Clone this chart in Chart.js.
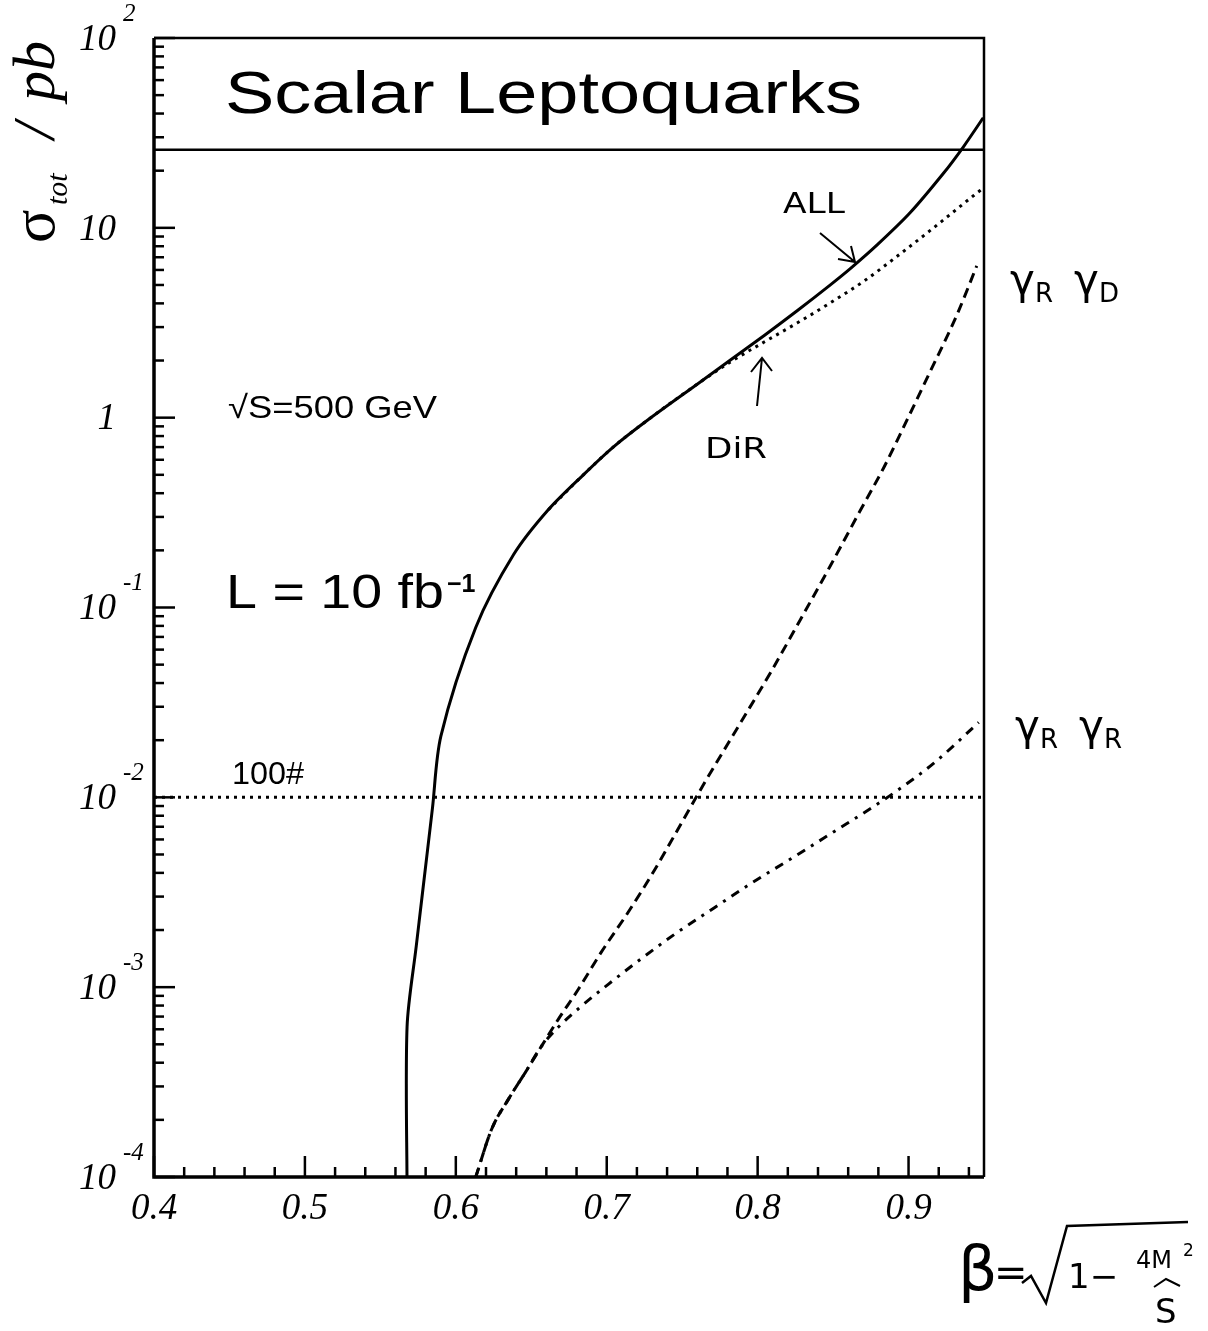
<!DOCTYPE html>
<html>
<head>
<meta charset="utf-8">
<title>Scalar Leptoquarks</title>
<script src="https://cdn.jsdelivr.net/npm/chart.js@4.4.0/dist/chart.umd.min.js"></script>
<style>
  body { margin: 0; background: #fff; }
  #wrap { width: 1208px; height: 1331px; position: relative; }
</style>
</head>
<body>
<div id="wrap"><canvas id="grafico" width="1208" height="1331"></canvas></div>
<script>
// Curva total (ALL), sólida
const allX = [0.5677, 0.5677, 0.5738, 0.5775, 0.5845, 0.5901, 0.6132, 0.6383, 0.6614, 0.6845, 0.7043, 0.7274, 0.7604, 0.7822, 0.8046, 0.8264, 0.8482, 0.8614, 0.8792, 0.901, 0.9234, 0.9366, 0.9495];
const allY = [0.00008, 0.00062, 0.00165, 0.00294, 0.00875, 0.021, 0.0785, 0.19, 0.328, 0.50, 0.70, 0.975, 1.51, 2.02, 2.72, 3.67, 5.01, 6.10, 8.13, 12.0, 19.5, 26.9, 38];

// Curva direta (DIR), pontilhada
const dirX = [0.6614, 0.6845, 0.7043, 0.7274, 0.7604, 0.7822, 0.8046, 0.8264, 0.8482, 0.8706, 0.8924, 0.9142, 0.9432, 0.9495];
const dirY = [0.328, 0.50, 0.70, 0.975, 1.51, 1.97, 2.51, 3.16, 4.03, 5.25, 7.08, 9.66, 14.8, 16.2];

// gamma_R gamma_D, tracejada
const rdX = [0.6132, 0.6238, 0.635, 0.6462, 0.6568, 0.668, 0.6812, 0.6964, 0.7142, 0.732, 0.7472, 0.765, 0.7888, 0.8086, 0.8284, 0.8482, 0.868, 0.8838, 0.901, 0.9142, 0.932, 0.9452];
const rdY = [0.0001, 0.000179, 0.000258, 0.000357, 0.000489, 0.000679, 0.000975, 0.00153, 0.00248, 0.00418, 0.00679, 0.012, 0.0248, 0.0455, 0.0865, 0.166, 0.324, 0.55, 1.05, 1.74, 3.47, 6.3];

// gamma_R gamma_R, traço-ponto
const rrX = [0.6132, 0.6238, 0.635, 0.6462, 0.6568, 0.668, 0.6832, 0.701, 0.7228, 0.7452, 0.7716, 0.7954, 0.8218, 0.8508, 0.8746, 0.8924, 0.9168, 0.9465];
const rrY = [0.0001, 0.000179, 0.000258, 0.000357, 0.000489, 0.000617, 0.000794, 0.001035, 0.00141, 0.001905, 0.00263, 0.00351, 0.00473, 0.00661, 0.00871, 0.01084, 0.01514, 0.0248];

// Linha de 100 eventos e linha da caixa do título
const limitX = [0.4, 0.95];
const limitY = [0.01, 0.01];
const boxY = [25.8, 25.8];

// Eixos
const xMajor = [0.4, 0.5, 0.6, 0.7, 0.8, 0.9];
const xMajorLabels = ['0.4', '0.5', '0.6', '0.7', '0.8', '0.9'];
const xMinor = [0.42, 0.44, 0.46, 0.48, 0.52, 0.54, 0.56, 0.58, 0.62, 0.64, 0.66, 0.68, 0.72, 0.74, 0.76, 0.78, 0.82, 0.84, 0.86, 0.88, 0.92, 0.94];
const yDecades = [100, 10, 1, 0.1, 0.01, 0.001, 0.0001];
const yBase = ['10', '10', '1', '10', '10', '10', '10'];
const yExp = ['2', '', '', '-1', '-2', '-3', '-4'];
const yMinorMult = [2, 3, 4, 5, 6, 7, 8, 9];

const pts = (xs, ys) => xs.map((x, i) => ({ x, y: ys[i] }));

// Escreve um texto ajustado a uma largura
function textoLargura(ctx, txt, x, y, largura) {
  const w = ctx.measureText(txt).width;
  ctx.save();
  ctx.translate(x, y);
  ctx.scale(largura / w, 1);
  ctx.fillText(txt, 0, 0);
  ctx.restore();
}

// Desenha moldura, ticks, rótulos e anotações
const decoracao = {
  id: 'decoracao',
  afterDraw(chart) {
    const ctx = chart.ctx;
    const xs = chart.scales.x, ys = chart.scales.y;
    const a = chart.chartArea;
    ctx.save();
    ctx.strokeStyle = '#000';
    ctx.fillStyle = '#000';
    ctx.lineCap = 'butt';

    // moldura
    ctx.lineWidth = 3.5;
    ctx.beginPath();
    ctx.moveTo(a.left, a.top); ctx.lineTo(a.left, a.bottom); ctx.lineTo(a.right, a.bottom);
    ctx.stroke();
    ctx.lineWidth = 2.5;
    ctx.beginPath();
    ctx.moveTo(a.left, a.top); ctx.lineTo(a.right, a.top); ctx.lineTo(a.right, a.bottom);
    ctx.stroke();

    // ticks do eixo x (para dentro)
    ctx.lineWidth = 2.5;
    xMajor.forEach(v => {
      const px = xs.getPixelForValue(v);
      ctx.beginPath(); ctx.moveTo(px, a.bottom); ctx.lineTo(px, a.bottom - 21); ctx.stroke();
    });
    xMinor.forEach(v => {
      const px = xs.getPixelForValue(v);
      ctx.beginPath(); ctx.moveTo(px, a.bottom); ctx.lineTo(px, a.bottom - 10); ctx.stroke();
    });

    // ticks do eixo y
    yDecades.forEach(d => {
      const py = ys.getPixelForValue(d);
      ctx.beginPath(); ctx.moveTo(a.left, py); ctx.lineTo(a.left + 21, py); ctx.stroke();
      if (d < 100) {
        yMinorMult.forEach(m => {
          const pm = ys.getPixelForValue(d * m);
          ctx.beginPath(); ctx.moveTo(a.left, pm); ctx.lineTo(a.left + 10, pm); ctx.stroke();
        });
      }
    });

    // rótulos x
    ctx.font = 'italic 37px "Liberation Serif"';
    ctx.textAlign = 'center';
    ctx.textBaseline = 'alphabetic';
    xMajor.forEach((v, i) => {
      ctx.fillText(xMajorLabels[i], xs.getPixelForValue(v), a.bottom + 42);
    });

    // rótulos y com expoente
    yDecades.forEach((d, i) => {
      const py = ys.getPixelForValue(d);
      ctx.font = 'italic 37px "Liberation Serif"';
      ctx.textAlign = 'right';
      ctx.textBaseline = 'middle';
      ctx.fillText(yBase[i], 116, py + 2);
      if (yExp[i]) {
        ctx.font = 'italic 25px "Liberation Serif"';
        ctx.textAlign = 'left';
        ctx.fillText(yExp[i], 123, py - 24);
      }
    });

    // título do eixo y (rotacionado)
    ctx.save();
    ctx.translate(54, 243);
    ctx.rotate(-Math.PI / 2);
    ctx.textAlign = 'left';
    ctx.textBaseline = 'alphabetic';
    ctx.font = '62px "Liberation Serif"';
    ctx.fillText('σ', 0, 0);
    ctx.font = 'italic 30px "Liberation Serif"';
    ctx.fillText('tot', 38, 13);
    ctx.font = 'italic 60px "Liberation Serif"';
    ctx.fillText('/', 104, 0);
    ctx.fillText('pb', 142, 0);
    ctx.restore();

    // título dentro da caixa
    ctx.textAlign = 'left';
    ctx.textBaseline = 'alphabetic';
    ctx.font = '60px "Liberation Sans"';
    textoLargura(ctx, 'Scalar Leptoquarks', 225, 113, 637);

    // textos do gráfico
    ctx.font = '32px "Liberation Sans"';
    textoLargura(ctx, '√S=500 GeV', 228, 418, 209);
    ctx.font = '48px "Liberation Sans"';
    textoLargura(ctx, 'L = 10 fb', 226, 608, 218);
    ctx.font = 'bold 25px "Liberation Sans"';
    ctx.fillText('−1', 447, 592);
    ctx.font = '32px "Liberation Sans"';
    textoLargura(ctx, '100#', 232, 784, 72);

    // anotações à mão
    ctx.font = '28px "DejaVu Sans"';
    textoLargura(ctx, 'ALL', 783, 213, 62);
    textoLargura(ctx, 'DiR', 705, 458, 62);
    ctx.lineWidth = 2;
    ctx.beginPath();
    ctx.moveTo(820, 233); ctx.lineTo(855, 262);
    ctx.moveTo(838, 259); ctx.lineTo(855, 262); ctx.lineTo(851, 246);
    ctx.moveTo(757, 406); ctx.lineTo(762, 358);
    ctx.moveTo(751, 372); ctx.lineTo(762, 358); ctx.lineTo(772, 371);
    ctx.stroke();

    const gama = (x, y, s1, s2) => {
      ctx.font = '42px "DejaVu Sans"';
      ctx.fillText('γ', x, y);
      ctx.font = '26px "DejaVu Sans"';
      ctx.fillText(s1, x + 25, y + 8);
      ctx.font = '42px "DejaVu Sans"';
      ctx.fillText('γ', x + 64, y);
      ctx.font = '26px "DejaVu Sans"';
      ctx.fillText(s2, x + 89, y + 8);
    };
    gama(1010, 294, 'R', 'D');
    gama(1015, 740, 'R', 'R');

    // definição de beta
    ctx.font = '62px "DejaVu Sans"';
    ctx.fillText('β', 958, 1290);
    ctx.font = '40px "DejaVu Sans"';
    ctx.fillText('=', 994, 1286);
    ctx.lineWidth = 2.5;
    ctx.beginPath();
    ctx.moveTo(1022, 1283); ctx.lineTo(1031, 1276); ctx.lineTo(1046, 1303);
    ctx.lineTo(1067, 1226); ctx.lineTo(1188, 1222);
    ctx.stroke();
    ctx.font = '34px "DejaVu Sans"';
    ctx.fillText('1−', 1068, 1288);
    ctx.font = '24px "DejaVu Sans"';
    ctx.fillText('4M', 1136, 1268);
    ctx.font = '17px "DejaVu Sans"';
    ctx.fillText('2', 1183, 1256);
    ctx.font = '34px "DejaVu Sans"';
    ctx.fillText('S', 1155, 1323);
    ctx.lineWidth = 2;
    ctx.beginPath();
    ctx.moveTo(1154, 1287); ctx.lineTo(1166, 1279); ctx.lineTo(1180, 1286);
    ctx.stroke();

    ctx.restore();
  }
};

const linha = { borderColor: '#000', borderWidth: 3, cubicInterpolationMode: 'monotone' };

const ctxGrafico = document.getElementById('grafico').getContext('2d');
new Chart(ctxGrafico, {
  type: 'line',
  data: {
    datasets: [
      { label: 'caixa', data: pts(limitX, boxY), borderColor: '#000', borderWidth: 2.5 },
      { label: '100 eventos', data: pts(limitX, limitY), borderColor: '#000', borderWidth: 3, borderDash: [3, 5] },
      { ...linha, label: 'DIR', data: pts(dirX, dirY), borderDash: [3, 5] },
      { ...linha, label: 'γR γD', data: pts(rdX, rdY), borderDash: [10, 6] },
      { ...linha, label: 'γR γR', data: pts(rrX, rrY), borderDash: [9, 7, 3, 7] },
      { label: 'ALL', data: pts(allX, allY), borderColor: '#000', borderWidth: 3, tension: 0.3 }
    ]
  },
  options: {
    responsive: false,
    animation: false,
    layout: { padding: { left: 154, top: 38, right: 224, bottom: 154 } },
    elements: { point: { radius: 0 } },
    plugins: { legend: { display: false }, tooltip: { enabled: false } },
    scales: {
      x: { type: 'linear', min: 0.4, max: 0.95, display: false },
      y: { type: 'logarithmic', min: 0.0001, max: 100, display: false }
    }
  },
  plugins: [decoracao]
});
</script>
</body>
</html>
